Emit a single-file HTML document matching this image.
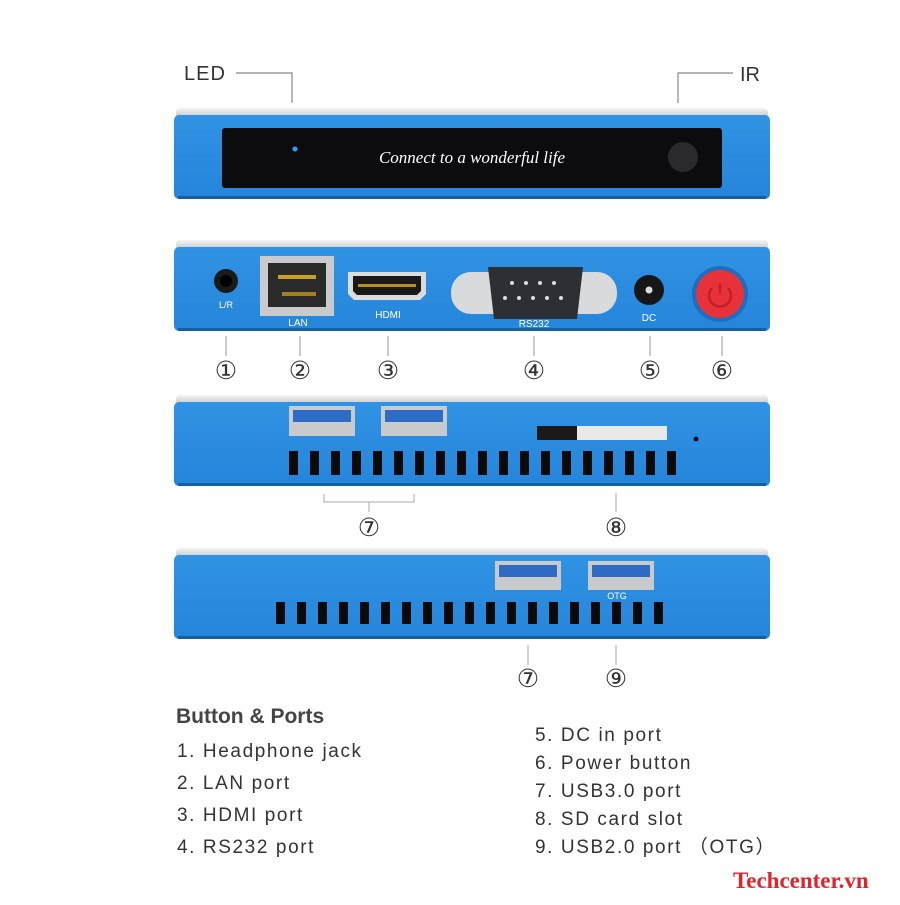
<!DOCTYPE html>
<html><head><meta charset="utf-8"><style>
body{margin:0;background:#fff}
text{font-family:"Liberation Sans",sans-serif}
.serif{font-family:"Liberation Serif",serif !important}
</style></head><body>
<svg width="900" height="900" viewBox="0 0 900 900" xmlns="http://www.w3.org/2000/svg">
<defs>
<linearGradient id="blue" x1="0" y1="0" x2="0" y2="1"><stop offset="0" stop-color="#3193e4"/><stop offset="1" stop-color="#2585da"/></linearGradient>
<linearGradient id="silver" x1="0" y1="0" x2="0" y2="1"><stop offset="0" stop-color="#f4f4f4"/><stop offset="1" stop-color="#b8bcc0"/></linearGradient>
</defs>
<!-- Panel 1 -->
<rect x="176" y="108" width="592" height="12" rx="4" fill="url(#silver)"/>
<rect x="174" y="115" width="596" height="84" rx="5" fill="url(#blue)"/>
<rect x="178" y="196" width="588" height="3" fill="#15609f"/>
<rect x="222" y="128" width="500" height="60" rx="3" fill="#0c0c0e"/>
<circle cx="295" cy="149" r="2.5" fill="#27a4ff"/>
<text class="serif" x="472" y="163" fill="#fff" font-style="italic" font-size="17" text-anchor="middle">Connect to a wonderful life</text>
<circle cx="683" cy="157" r="15" fill="#2a2a2c"/>
<polyline points="236,73 292,73 292,103" fill="none" stroke="#888" stroke-width="1.2"/>
<polyline points="733,73 678,73 678,103" fill="none" stroke="#888" stroke-width="1.2"/>
<text x="184" y="80" font-size="20" fill="#333" letter-spacing="1">LED</text>
<text x="740" y="81" font-size="20" fill="#333">IR</text>
<!-- Panel 2 -->
<rect x="176" y="240" width="592" height="12" rx="4" fill="url(#silver)"/>
<rect x="174" y="247" width="596" height="84" rx="5" fill="url(#blue)"/>
<rect x="178" y="328" width="588" height="3" fill="#15609f"/>
<circle cx="226" cy="281" r="12" fill="#1a1a1a"/><circle cx="226" cy="281" r="6" fill="#000"/>
<text x="226" y="308" font-size="9" fill="#fff" text-anchor="middle">L/R</text>
<rect x="260" y="256" width="74" height="60" fill="#c8cacc"/><rect x="268" y="263" width="58" height="44" fill="#2a2a2a"/>
<rect x="278" y="275" width="38" height="4" fill="#c9a020"/><rect x="282" y="292" width="34" height="4" fill="#a08020"/>
<text x="298" y="326" font-size="10" fill="#fff" text-anchor="middle">LAN</text>
<path d="M348 272 h78 v22 l-6 6 h-66 l-6 -6z" fill="#dcdcdc"/><path d="M353 276 h68 v15 l-4 4 h-60 l-4 -4z" fill="#1a1a1a"/>
<rect x="358" y="284" width="58" height="3" fill="#b89020"/>
<text x="388" y="318" font-size="10" fill="#fff" text-anchor="middle">HDMI</text>
<rect x="451" y="272" width="166" height="42" rx="20" fill="#d8dadc"/>
<path d="M488 267 h95 l-6 52 h-83z" fill="#2c2f33"/>
<g fill="#ddd"><circle cx="512" cy="283" r="2"/><circle cx="526" cy="283" r="2"/><circle cx="540" cy="283" r="2"/><circle cx="554" cy="283" r="2"/><circle cx="505" cy="298" r="2"/><circle cx="519" cy="298" r="2"/><circle cx="533" cy="298" r="2"/><circle cx="547" cy="298" r="2"/><circle cx="561" cy="298" r="2"/></g>
<text x="534" y="327" font-size="10" fill="#fff" text-anchor="middle">RS232</text>
<circle cx="649" cy="290" r="15" fill="#161616"/><circle cx="649" cy="290" r="3.5" fill="#ddd"/>
<text x="649" y="321" font-size="10" fill="#fff" text-anchor="middle">DC</text>
<circle cx="720" cy="294" r="28" fill="#1c6fc0"/><circle cx="720" cy="294" r="24" fill="#e8323a"/>
<path d="M712 288 a11 11 0 1 0 16 0" fill="none" stroke="#c41e26" stroke-width="2.5"/><line x1="720" y1="283" x2="720" y2="294" stroke="#c41e26" stroke-width="2.5"/>
<g stroke="#999" stroke-width="1"><line x1="226" y1="336" x2="226" y2="356"/><line x1="300" y1="336" x2="300" y2="356"/><line x1="388" y1="336" x2="388" y2="356"/><line x1="534" y1="336" x2="534" y2="356"/><line x1="650" y1="336" x2="650" y2="356"/><line x1="722" y1="336" x2="722" y2="356"/></g>
<g font-size="25" fill="#333" text-anchor="middle">
<text x="226" y="379">①</text><text x="300" y="379">②</text><text x="388" y="379">③</text><text x="534" y="379">④</text><text x="650" y="379">⑤</text><text x="722" y="379">⑥</text>
</g>
<!-- Panel 3 -->
<rect x="176" y="395" width="592" height="12" rx="4" fill="url(#silver)"/>
<rect x="174" y="402" width="596" height="84" rx="5" fill="url(#blue)"/>
<rect x="178" y="483" width="588" height="3" fill="#15609f"/>
<rect x="289" y="406" width="66" height="30" fill="#c8cacc"/><rect x="293" y="410" width="58" height="12" fill="#2e6bc4"/>
<rect x="381" y="406" width="66" height="30" fill="#c8cacc"/><rect x="385" y="410" width="58" height="12" fill="#2e6bc4"/>
<rect x="537" y="426" width="130" height="14" fill="#e8e8e8"/><rect x="537" y="426" width="40" height="14" fill="#1a1a1a"/>
<circle cx="696" cy="439" r="2.5" fill="#111"/>
<polyline points="324,494 324,502 414,502 414,494" fill="none" stroke="#aaa"/><line x1="369" y1="502" x2="369" y2="512" stroke="#aaa"/>
<line x1="616" y1="493" x2="616" y2="512" stroke="#aaa"/>
<g font-size="25" fill="#333" text-anchor="middle"><text x="369" y="536">⑦</text><text x="616" y="536">⑧</text></g>
<!-- Panel 4 -->
<rect x="176" y="548" width="592" height="12" rx="4" fill="url(#silver)"/>
<rect x="174" y="555" width="596" height="84" rx="5" fill="url(#blue)"/>
<rect x="178" y="636" width="588" height="3" fill="#15609f"/>
<rect x="495" y="561" width="66" height="29" fill="#c8cacc"/><rect x="499" y="565" width="58" height="12" fill="#2e6bc4"/>
<rect x="588" y="561" width="66" height="29" fill="#c8cacc"/><rect x="592" y="565" width="58" height="12" fill="#2e6bc4"/>
<text x="617" y="599" font-size="9" fill="#fff" text-anchor="middle">OTG</text>
<line x1="528" y1="645" x2="528" y2="665" stroke="#aaa"/><line x1="616" y1="645" x2="616" y2="665" stroke="#aaa"/>
<g font-size="25" fill="#333" text-anchor="middle"><text x="528" y="687">⑦</text><text x="616" y="687">⑨</text></g>
<g fill="#0a0a0a">
<rect x="289" y="451" width="9" height="24"/><rect x="310" y="451" width="9" height="24"/><rect x="331" y="451" width="9" height="24"/><rect x="352" y="451" width="9" height="24"/><rect x="373" y="451" width="9" height="24"/><rect x="394" y="451" width="9" height="24"/><rect x="415" y="451" width="9" height="24"/><rect x="436" y="451" width="9" height="24"/><rect x="457" y="451" width="9" height="24"/><rect x="478" y="451" width="9" height="24"/><rect x="499" y="451" width="9" height="24"/><rect x="520" y="451" width="9" height="24"/><rect x="541" y="451" width="9" height="24"/><rect x="562" y="451" width="9" height="24"/><rect x="583" y="451" width="9" height="24"/><rect x="604" y="451" width="9" height="24"/><rect x="625" y="451" width="9" height="24"/><rect x="646" y="451" width="9" height="24"/><rect x="667" y="451" width="9" height="24"/>
<rect x="276" y="602" width="9" height="22"/><rect x="297" y="602" width="9" height="22"/><rect x="318" y="602" width="9" height="22"/><rect x="339" y="602" width="9" height="22"/><rect x="360" y="602" width="9" height="22"/><rect x="381" y="602" width="9" height="22"/><rect x="402" y="602" width="9" height="22"/><rect x="423" y="602" width="9" height="22"/><rect x="444" y="602" width="9" height="22"/><rect x="465" y="602" width="9" height="22"/><rect x="486" y="602" width="9" height="22"/><rect x="507" y="602" width="9" height="22"/><rect x="528" y="602" width="9" height="22"/><rect x="549" y="602" width="9" height="22"/><rect x="570" y="602" width="9" height="22"/><rect x="591" y="602" width="9" height="22"/><rect x="612" y="602" width="9" height="22"/><rect x="633" y="602" width="9" height="22"/><rect x="654" y="602" width="9" height="22"/>
</g>
<!-- Text -->
<text x="176" y="723" font-size="21" font-weight="bold" fill="#444">Button &amp; Ports</text>
<g font-size="19" fill="#333" letter-spacing="1.6">
<text x="177" y="757">1. Headphone jack</text>
<text x="177" y="789">2. LAN port</text>
<text x="177" y="821">3. HDMI port</text>
<text x="177" y="853">4. RS232 port</text>
<text x="535" y="741">5. DC in port</text>
<text x="535" y="769">6. Power button</text>
<text x="535" y="797">7. USB3.0 port</text>
<text x="535" y="825">8. SD card slot</text>
<text x="535" y="853">9. USB2.0 port （OTG）</text>
</g>
<text class="serif" x="733" y="888" font-weight="bold" font-size="23" fill="#e0242c">Techcenter.vn</text>
</svg>
</body></html>
